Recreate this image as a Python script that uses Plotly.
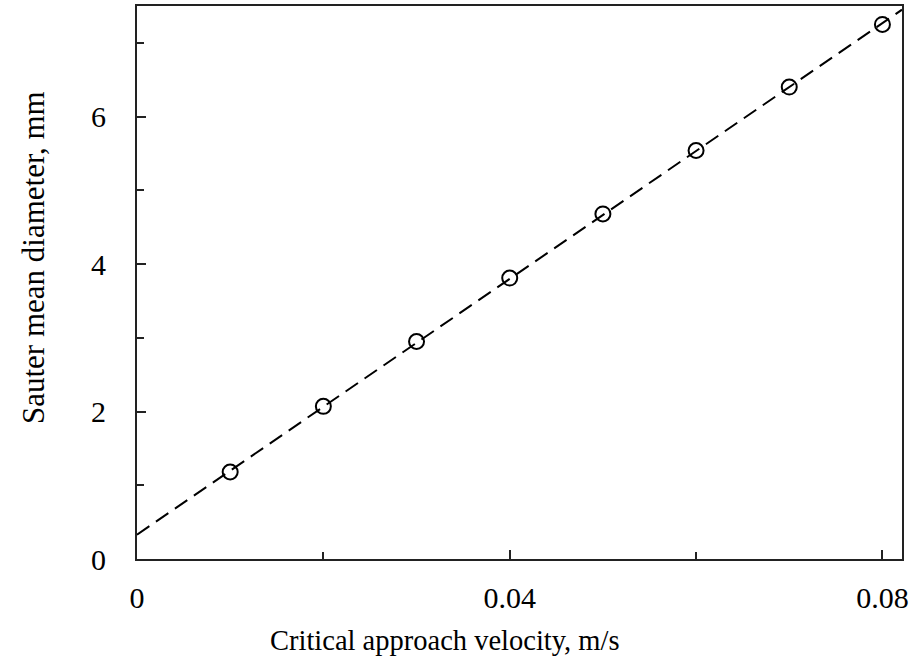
import plotly.graph_objects as go

velocity = [0.01, 0.02, 0.03, 0.04, 0.05, 0.06, 0.07, 0.08]
diameter = [1.18, 2.07, 2.95, 3.81, 4.68, 5.54, 6.40, 7.25]
fit_x = [0.0, 0.0821]
fit_y = [0.33, 7.45]

x_ticks = [0, 0.04, 0.08]
x_tick_text = ["0", "0.04", "0.08"]
y_ticks = [0, 2, 4, 6]
y_tick_text = ["0", "2", "4", "6"]
x_title = "Critical approach velocity, m/s"
y_title = "Sauter mean diameter, mm"

font = "Liberation Serif, Times New Roman, serif"

fig = go.Figure()
fig.add_trace(go.Scatter(x=fit_x, y=fit_y, mode="lines",
                         line=dict(color="black", width=2, dash="15px,8px"),
                         showlegend=False, hoverinfo="skip"))
fig.add_trace(go.Scatter(x=velocity, y=diameter, mode="markers",
                         marker=dict(symbol="circle-open", size=15, color="black",
                                     line=dict(width=2, color="black")),
                         showlegend=False))

fig.update_layout(
    width=913, height=664,
    margin=dict(l=137, r=11, t=6, b=105),
    paper_bgcolor="white", plot_bgcolor="white",
    font=dict(family=font, color="black", size=30),
)
fig.update_xaxes(
    range=[0, 0.0821], tickvals=x_ticks, ticktext=x_tick_text, automargin=False,
    showgrid=False, zeroline=False, showline=True, linecolor="#222", linewidth=2,
    mirror=True, ticks="inside", ticklen=9, tickwidth=2, tickcolor="#222",
    minor=dict(tickvals=[0.02, 0.06], ticks="inside", ticklen=7, tickwidth=2, tickcolor="#222"),
    tickfont=dict(size=30, family=font), ticklabelstandoff=11,
)
fig.update_yaxes(
    range=[0, 7.5], tickvals=y_ticks, ticktext=y_tick_text, automargin=False,
    showgrid=False, zeroline=False, showline=True, linecolor="#222", linewidth=2,
    mirror=True, ticks="inside", ticklen=9, tickwidth=2, tickcolor="#222",
    minor=dict(tickvals=[1, 3, 5, 7], ticks="inside", ticklen=7, tickwidth=2, tickcolor="#222"),
    tickfont=dict(size=30, family=font), ticklabelstandoff=23,
)
fig.add_annotation(text=x_title, xref="paper", yref="paper", x=0.4026, y=-0.1465,
                   xanchor="center", yanchor="middle", showarrow=False,
                   font=dict(size=28.5, family=font, color="black"))
fig.add_annotation(text=y_title, xref="paper", yref="paper", x=-0.136, y=0.546,
                   xanchor="center", yanchor="middle", showarrow=False, textangle=-90,
                   font=dict(size=31, family=font, color="black"))

fig.write_html("out.html", config={"displayModeBar": False},
               post_script="document.body.style.margin='0px';document.body.style.padding='0px';")
